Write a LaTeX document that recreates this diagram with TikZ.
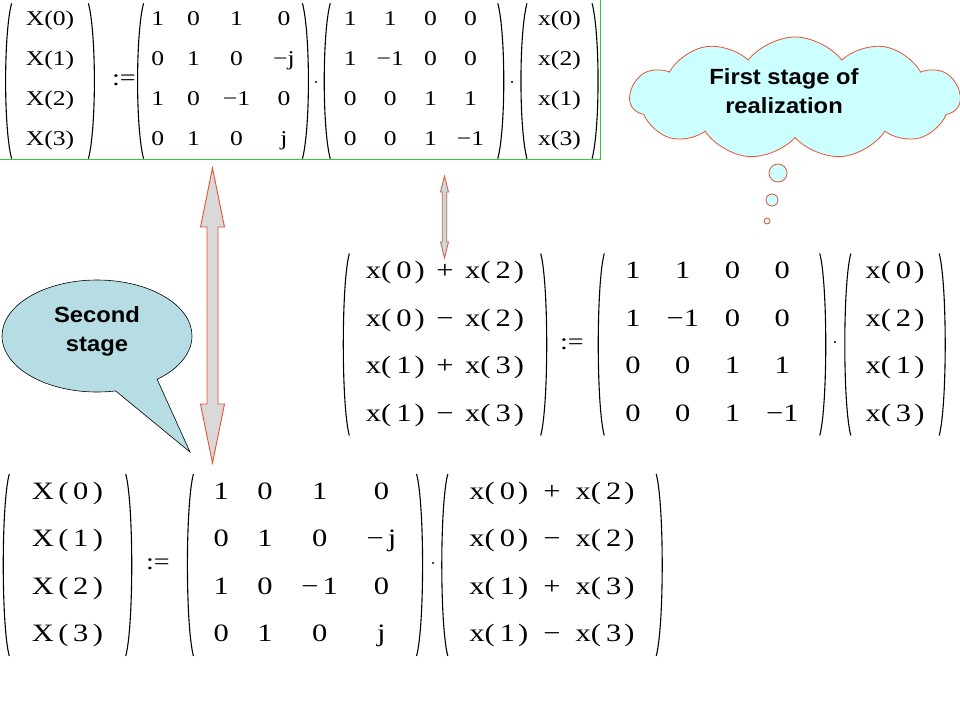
\documentclass[tikz,border=0pt]{standalone}
\usepackage{fontspec}
\setmainfont{Liberation Serif}
\setsansfont{Liberation Sans}
\newfontfamily\mcfont[FakeStretch=1.22]{Liberation Serif}
\newfontfamily\callfont[FakeStretch=1.08]{Liberation Sans}
\usepackage{tikz}
\usetikzlibrary{matrix,shapes.symbols,shapes.callouts,calc}

\definecolor{boxgreen}{HTML}{33CC33}
\definecolor{redline}{HTML}{E8502F}
\definecolor{cloudfill}{HTML}{CCFFFF}
\definecolor{speechfill}{HTML}{B6DDE3}
\definecolor{arrowgray}{HTML}{D9D9D9}
\definecolor{arrowblue}{HTML}{C0DDE2}

\tikzset{
  mat/.style={matrix of nodes, inner ysep=8pt, row sep=21pt,
    nodes={anchor=center, text height=14pt, text depth=5pt, inner sep=0pt,
      font=\mcfont\fontsize{21}{26}\selectfont}},
  bigmat/.style={mat, inner ysep=8pt, row sep=24.5pt,
    nodes={text height=17pt, text depth=6pt, font=\mcfont\fontsize{25}{30}\selectfont}},
  paren/.style={line width=1.1pt},
  assign/.style={font=\mcfont\fontsize{23}{28}\selectfont, inner sep=0pt},
  dotnode/.style={circle, fill, inner sep=0pt, minimum size=2.4pt},
  bigarrow/.style={draw=redline, fill=arrowgray, line width=0.9pt},
  smallarrow/.style={draw=redline, fill=arrowblue, line width=0.8pt},
  cloudshape/.style={cloud, cloud puffs=11, cloud puff arc=105, draw=redline,
    fill=cloudfill, line width=0.8pt, minimum width=330pt, minimum height=122pt},
  bubble/.style={circle, draw=redline, fill=cloudfill, line width=0.8pt, inner sep=0pt},
  speech/.style={ellipse callout, draw, fill=speechfill, line width=0.6pt,
    minimum width=190pt, minimum height=112pt, callout pointer arc=28},
  labeltext/.style={font=\callfont\bfseries\fontsize{22}{29}\selectfont, align=center}
}

% parentheses round a matrix node
\newcommand\parens[1]{%
  \draw[paren] (#1.north west) .. controls +(-8,30) and +(-8,-30) .. (#1.south west);
  \draw[paren] (#1.north east) .. controls +(8,30) and +(8,-30) .. (#1.south east);}
% double block arrow: top, bottom, head half width, shaft half width, head length
\newcommand\dblarrow[6][]{%
  \draw[#1] (#2) -- ++(#4,#6) -- ++(#5-#4,0) -- ($(#3)+(#5,-#6)$) -- ++(#4-#5,0)
    -- (#3) -- ++(-#4,-#6) -- ++(#4-#5,0) -- ($(#2)+(-#5,#6)$) -- ++(#5-#4,0) -- cycle;}
\newcommand\xs[1]{x(\kern5pt#1\kern3pt)}
\newcommand\Xs[1]{X\kern4.5pt(\kern4.5pt#1\kern4.5pt)}

\begin{document}
\begin{tikzpicture}[x=1pt, y=-1pt]
\useasboundingbox (0,0) rectangle (960,720);

% first stage, top row
\draw[boxgreen, line width=1pt] (-2,-2) rectangle (600,159);
\matrix (X1) [mat, inner xsep=14pt] at (50,81) {X(0)\\X(1)\\X(2)\\X(3)\\};
\node[assign] (as1) at (124,80) {:=};
\matrix (A1) [mat, column sep=23pt, inner xsep=7.5pt] at (223,81) {
  1 & 0 & 1 & 0\\
  0 & 1 & 0 & −j\\
  1 & 0 & −1 & 0\\
  0 & 1 & 0 & j\\};
\node[dotnode] (d1) at (316,82) {};
\matrix (B1) [mat, column sep=20pt, inner xsep=13.5pt] at (414,81) {
  1 & 1 & 0 & 0\\
  1 & −1 & 0 & 0\\
  0 & 0 & 1 & 1\\
  0 & 0 & 1 & −1\\};
\node[dotnode] (d2) at (512,82) {};
\matrix (x1) [mat, inner xsep=11pt] at (559.5,81) {x(0)\\x(2)\\x(1)\\x(3)\\};

% middle row
\matrix (S2) [bigmat, column sep=11.6pt, inner xsep=16.5pt] at (445,344.5) {
  \xs{0} & + & \xs{2}\\
  \xs{0} & − & \xs{2}\\
  \xs{1} & + & \xs{3}\\
  \xs{1} & − & \xs{3}\\};
\node[assign] (as2) at (572,344) {:=};
\matrix (B2) [bigmat, column sep=25.9pt, inner xsep=21pt] at (712,344.5) {
  1 & 1 & 0 & 0\\
  1 & −1 & 0 & 0\\
  0 & 0 & 1 & 1\\
  0 & 0 & 1 & −1\\};
\node[dotnode] (d3) at (835,342) {};
\matrix (x2) [bigmat, inner xsep=14.6pt] at (895,344.5) {\xs{0}\\\xs{2}\\\xs{1}\\\xs{3}\\};

% bottom row
\matrix (X3) [bigmat, inner xsep=22.5pt] at (67.5,565) {\Xs{0}\\\Xs{1}\\\Xs{2}\\\Xs{3}\\};
\node[assign] (as3) at (158,564) {:=};
\matrix (A3) [bigmat, column sep=28.6pt, inner xsep=20pt] at (305,565) {
  1 & 0 & 1 & 0\\
  0 & 1 & 0 & −\,j\\
  1 & 0 & −\,1 & 0\\
  0 & 1 & 0 & j\\};
\node[dotnode] (d4) at (433,563) {};
\matrix (S3) [bigmat, column sep=15.1pt, inner xsep=21.5pt] at (552,565) {
  \xs{0} & + & \xs{2}\\
  \xs{0} & − & \xs{2}\\
  \xs{1} & + & \xs{3}\\
  \xs{1} & − & \xs{3}\\};

\parens{X1} \parens{A1} \parens{B1} \parens{x1}
\parens{S2} \parens{B2} \parens{x2}
\parens{X3} \parens{A3} \parens{S3}

% block arrows
\coordinate (bigtop) at (212.5,168);
\coordinate (bigbot) at (212.5,463);
\dblarrow[bigarrow]{bigtop}{bigbot}{12}{5.5}{59}
\coordinate (smalltop) at (444.5,176);
\coordinate (smallbot) at (444.5,258);
\dblarrow[smallarrow]{smalltop}{smallbot}{4}{2.2}{16}

% thought cloud
\node[cloudshape] (cloud) at (795,98) {};
\node[labeltext] (stage1) at (784,91) {First stage of\\realization};
\node[bubble, minimum size=18pt] (b1) at (778,173) {};
\node[bubble, minimum size=12pt] (b2) at (772,200) {};
\node[bubble, minimum size=6pt] (b3) at (767,221) {};

% speech bubble
\node[speech, callout absolute pointer={(190,452)}] (stage2) at (97,336) {};
\node[labeltext] (stage2text) at (97,331) {Second\\stage};
\end{tikzpicture}
\end{document}
